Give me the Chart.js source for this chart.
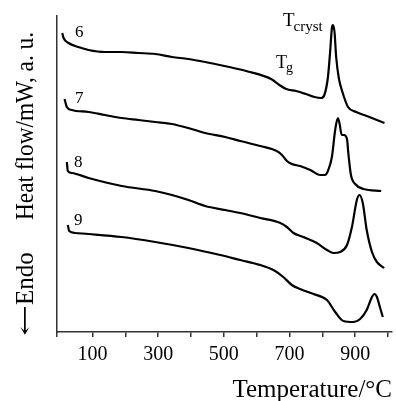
<!DOCTYPE html>
<html>
<head>
<meta charset="utf-8">
<script src="https://cdn.jsdelivr.net/npm/chart.js@4"></script>
<style>
    body { margin: 0; background: #fff; }
    #wrap { width: 396px; height: 401px; }
</style>
</head>
<body>
<div id="wrap"><canvas id="dscChart"></canvas></div>
<script>
// Temperature (°C) and heat flow (a. u., arbitrary offset)
const temps6 = [8, 12, 27, 57, 88, 138, 189, 240, 291, 342, 392, 443, 516, 568, 644, 669, 690, 720, 750, 776, 796, 806, 817, 824, 829, 832, 837, 842, 850, 862, 878, 903, 943, 989];
const flow6  = [299, 294, 289, 285, 282, 280, 280, 279, 278, 275, 273, 270, 265, 261, 253, 247, 243, 241, 238, 235, 234, 237, 255, 282, 304, 307, 300, 275, 254, 239, 225, 220, 215, 209];

const temps7 = [15, 22, 37, 88, 138, 189, 240, 291, 342, 392, 443, 504, 550, 611, 661, 677, 692, 707, 732, 763, 793, 808, 818, 829, 839, 847, 852, 859, 866, 875, 879, 887, 900, 925, 979];
const flow7  = [233, 225, 222, 220, 217, 214, 212, 210, 208, 204, 199, 195, 191, 186, 181, 177, 171, 168, 166, 162, 157, 157, 162, 175, 202, 214, 209, 197, 197, 193, 179, 157, 148, 143, 141];

const temps8 = [22, 25, 37, 88, 189, 291, 342, 392, 443, 504, 550, 611, 672, 692, 712, 742, 783, 814, 834, 854, 875, 890, 905, 913, 923, 935, 951, 966, 988];
const flow8  = [170, 161, 159, 154, 146, 141, 137, 132, 126, 122, 119, 114, 109, 105, 99, 95, 89, 82, 79, 80, 87, 105, 132, 137, 129, 102, 80, 70, 64];

const temps9 = [25, 29, 47, 88, 189, 291, 392, 489, 550, 611, 651, 681, 707, 732, 773, 814, 839, 864, 895, 915, 935, 951, 959, 966, 976, 984];
const flow9  = [107, 101, 99, 98, 95, 90, 84, 77, 72, 67, 62, 55, 47, 43, 38, 32, 20, 11, 10, 13, 22, 35, 38, 35, 24, 15];

const curveNames = ['6', '7', '8', '9'];
const tickValues = [100, 200, 300, 400, 500, 600, 700, 800, 900, 1000];
const tickLabels = ['100', '300', '500', '700', '900'];

// where the small labels sit (°C, a. u.)
const nameX = [47, 47, 44, 44];
const nameY = [295, 229, 165, 107];

const serif = '"Liberation Serif", "Times New Roman", serif';

function toPoints(xs, ys) {
    return xs.map((x, i) => ({ x: x, y: ys[i] }));
}

const allTemps = [temps6, temps7, temps8, temps9];
const allFlows = [flow6, flow7, flow8, flow9];

const datasets = allTemps.map((t, i) => ({
    label: curveNames[i],
    data: toPoints(t, allFlows[i]),
    borderColor: '#000',
    borderWidth: 2.2,
    pointRadius: 0,
    fill: false,
    cubicInterpolationMode: 'monotone'
}));

// Labels on the plot and the two-part y title
const textPlugin = {
    id: 'dscText',
    afterDraw(chart) {
        const ctx = chart.ctx;
        const xs = chart.scales.x;
        const ys = chart.scales.y;
        ctx.save();
        ctx.fillStyle = '#000';
        ctx.textBaseline = 'alphabetic';
        ctx.textAlign = 'left';

        ctx.font = '17px ' + serif;
        curveNames.forEach((n, i) => {
            ctx.fillText(n, xs.getPixelForValue(nameX[i]), ys.getPixelForValue(nameY[i]));
        });

        // T_g
        let px = xs.getPixelForValue(659);
        let py = ys.getPixelForValue(264);
        ctx.font = '18px ' + serif;
        ctx.fillText('T', px, py);
        let w = ctx.measureText('T').width;
        ctx.font = '14px ' + serif;
        ctx.fillText('g', px + w - 1, py + 4);

        // T_cryst
        px = xs.getPixelForValue(680);
        py = ys.getPixelForValue(306);
        ctx.font = '19px ' + serif;
        ctx.fillText('T', px, py);
        w = ctx.measureText('T').width;
        ctx.font = '15px ' + serif;
        ctx.fillText('cryst', px + w - 1, py + 5);

        // vertical axis title
        ctx.translate(33, 0);
        ctx.rotate(-Math.PI / 2);
        ctx.font = '25px ' + serif;
        ctx.fillText('Heat flow/mW, a. u.', -220, 0, 188);
        ctx.fillText('Endo', -305, 0, 54);
        // stretch the arrow glyph so it runs up to the E
        ctx.font = '22px "DejaVu Serif", serif';
        w = ctx.measureText('\u2190').width;
        ctx.translate(-336, -1);
        ctx.scale(31 / w, 1);
        ctx.fillText('\u2190', 0, 0);
        ctx.restore();
    }
};

new Chart(document.getElementById('dscChart'), {
    type: 'line',
    data: { datasets: datasets },
    options: {
        responsive: true,
        maintainAspectRatio: false,
        animation: false,
        layout: { padding: { top: 16, right: 4, left: 0, bottom: 0 } },
        plugins: {
            legend: { display: false },
            tooltip: { enabled: false }
        },
        scales: {
            x: {
                type: 'linear',
                min: -8,
                max: 1012,
                afterFit(scale) { scale.height = 69; },
                afterBuildTicks(scale) {
                    scale.ticks = [scale.min].concat(tickValues).map(v => ({ value: v }));
                },
                grid: {
                    drawOnChartArea: false,
                    drawTicks: true,
                    tickLength: 5,
                    color: '#333',
                    lineWidth: 1.5
                },
                border: { display: true, color: '#333', width: 1.5 },
                ticks: {
                    autoSkip: false,
                    maxRotation: 0,
                    padding: 6,
                    color: '#000',
                    font: { family: serif, size: 20 },
                    callback: v => tickLabels.includes(String(v)) ? String(v) : ''
                },
                title: {
                    display: true,
                    text: 'Temperature/°C',
                    align: 'end',
                    color: '#000',
                    font: { family: serif, size: 25 },
                    padding: { top: 0, bottom: -4 }
                }
            },
            y: {
                min: 0,
                max: 316,
                afterFit(scale) { scale.width = 57; },
                grid: { display: false },
                border: { display: true, color: '#333', width: 1.5 },
                ticks: { display: false }
            }
        }
    },
    plugins: [textPlugin]
});
</script>
</body>
</html>
